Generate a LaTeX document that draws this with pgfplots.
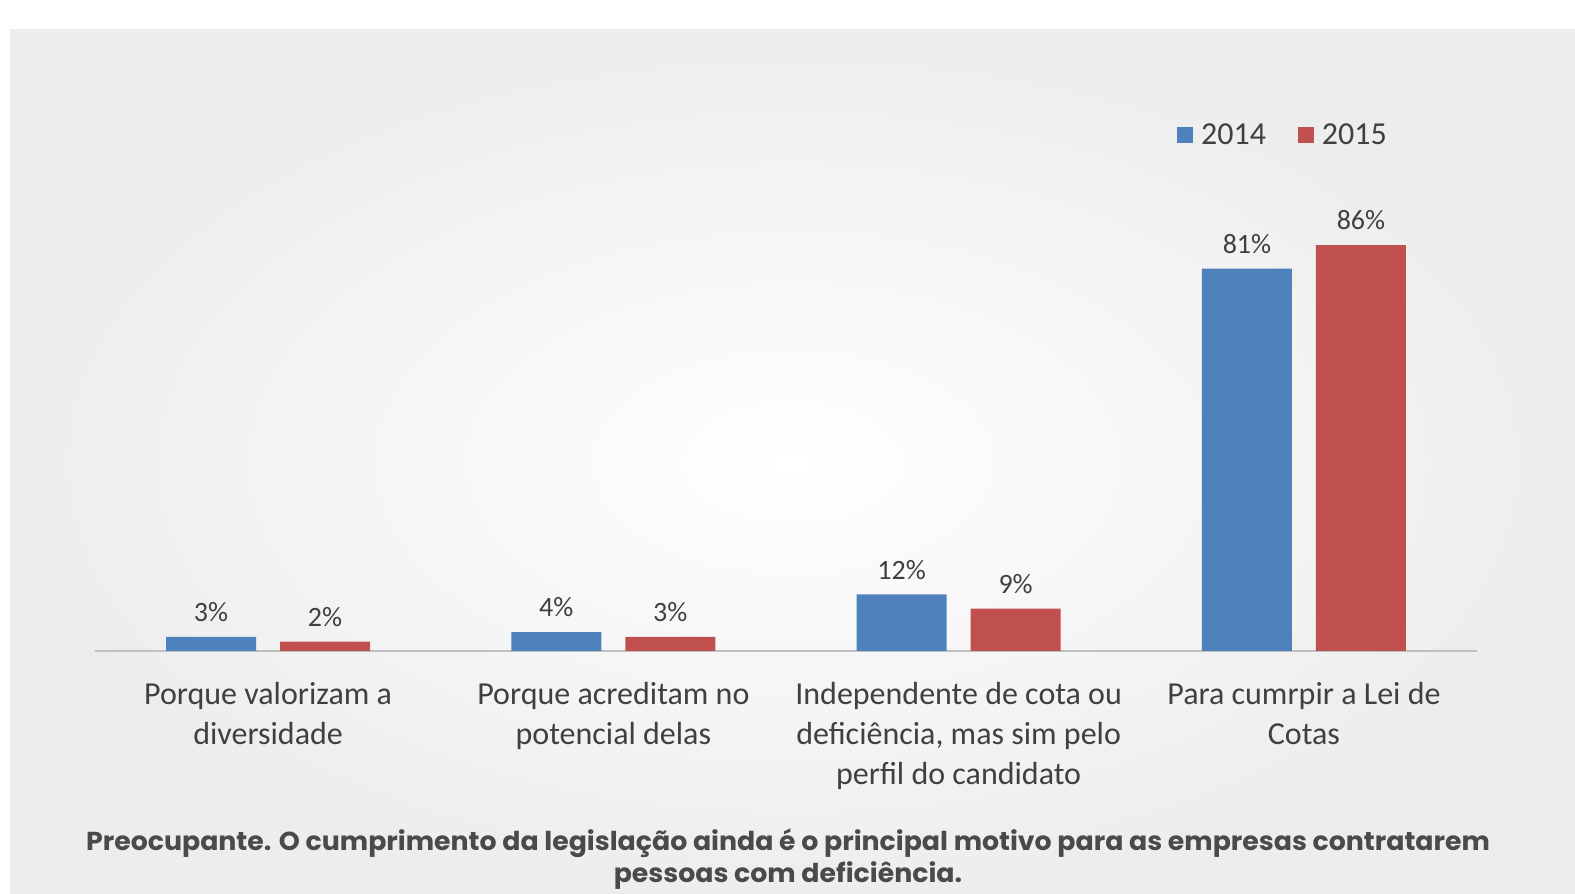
\documentclass[border=0pt]{standalone}
\usepackage{pgfplots}
\pgfplotsset{compat=1.18}
\usepackage{fontspec}
\setmainfont{Carlito}
\newfontfamily\capfont{Poppins}

\definecolor{blu}{HTML}{4F81BD}
\definecolor{rd}{HTML}{C0504D}
\definecolor{txt}{HTML}{404040}
\definecolor{capc}{HTML}{4A4A4A}

\begin{document}
\begin{tikzpicture}
\useasboundingbox (0,0) rectangle (787.5pt,447pt);
% page background
\fill[white] (0,0) rectangle (787.5pt,447pt);
\shade[inner color=white, outer color=black!7] (5pt,0) rectangle (787.5pt,432pt);

\begin{axis}[
    at={(47.7pt,121.5pt)}, anchor=south west,
    scale only axis,
    width=690.6pt, height=270.5pt,
    ybar=12pt, bar width=45pt,
    xmin=-0.5, xmax=3.5, ymin=0, ymax=114.6,
    axis x line*=bottom, axis y line=none,
    x axis line style={draw=black!25, line width=1pt, -},
    xtick={0,1,2,3}, major tick length=0pt,
    xticklabels={{Porque valorizam a\\diversidade},
                 {Porque acreditam no\\potencial delas},
                 {Independente de cota ou\\deficiência, mas sim pelo\\perfil do candidato},
                 {Para cumrpir a Lei de\\Cotas}},
    xticklabel style={align=center, text=txt, font=\fontsize{16}{20}\selectfont, yshift=-12pt},
    /pgf/number format/assume math mode=true,
    nodes near coords={\pgfmathprintnumber{\pgfplotspointmeta}\%},
    every node near coord/.append style={text=txt, font=\fontsize{14}{16}\selectfont, yshift=4pt},
    clip=false,
    legend columns=2,
    legend style={at={(0.862,0.953)}, anchor=center, draw=none, fill=none,
        font=\fontsize{16}{18}\selectfont, text=txt,
        /tikz/every odd column/.append style={column sep=0pt},
        /tikz/every even column/.append style={column sep=12pt},
        nodes={inner xsep=4pt}},
    legend image code/.code={\fill[#1] (0pt,-4pt) rectangle (8pt,4pt);},
]
\addplot[fill=blu, draw=none] coordinates {(0,3) (1,4) (2,12) (3,81)};
\addplot[fill=rd, draw=none] coordinates {(0,2) (1,3) (2,9) (3,86)};
\legend{2014,2015}
\end{axis}

\node[align=center, text=capc, xscale=1.03, font=\capfont\bfseries\fontsize{13}{16}\selectfont]
  at (394pt,17.5pt) {Preocupante. O cumprimento da legislação ainda é o principal motivo para as empresas contratarem\\pessoas com deficiência.};
\end{tikzpicture}
\end{document}
